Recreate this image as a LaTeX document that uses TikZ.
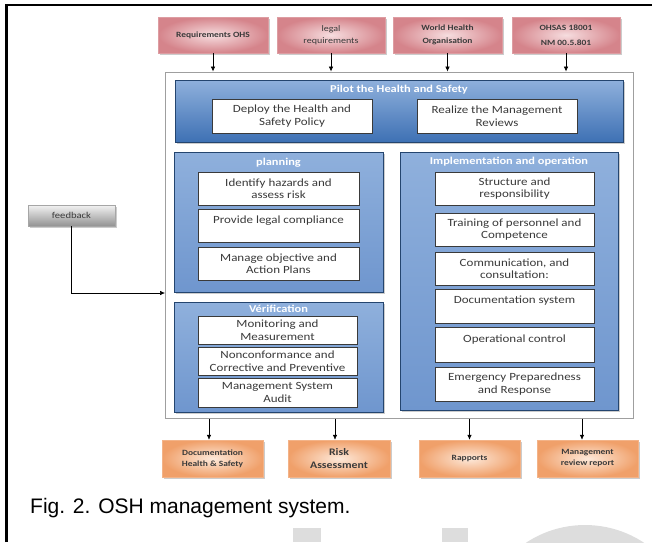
\documentclass[tikz,border=0pt]{standalone}
\usepackage{fontspec}
\setmainfont{Carlito}[FakeStretch=1.18]
\newfontfamily\capfont{Liberation Sans}
\usetikzlibrary{shadows,arrows.meta}
\definecolor{pinkout}{HTML}{D5848B}
\definecolor{pinkin}{HTML}{F6DDDF}
\definecolor{orgout}{HTML}{F0A06A}
\definecolor{orgin}{HTML}{FDE9DA}
\definecolor{blTop}{HTML}{8FB0DC}
\definecolor{blMid}{HTML}{3E71B4}
\definecolor{blBot}{HTML}{6F96CE}
\definecolor{blDraw}{HTML}{24456F}
\definecolor{txt}{HTML}{3A3A3A}
\definecolor{wm}{HTML}{DDDDDD}
\tikzset{
  shad/.style={drop shadow={opacity=0.4,shadow xshift=1.8pt,shadow yshift=-1.8pt}},
  pinkbox/.style={shad,draw=pinkout!80!white,line width=0.4pt,inner color=pinkin,outer color=pinkout,
    minimum height=36pt,align=center,text=txt,font=\fontsize{8}{13}\selectfont\bfseries},
  orgbox/.style={shad,draw=orgout!80!white,line width=0.4pt,inner color=orgin,outer color=orgout,
    minimum width=101pt,minimum height=37pt,align=center,text=txt,font=\fontsize{8}{11}\selectfont\bfseries},
  grp/.style={shad,draw=blDraw,line width=0.7pt,top color=blTop,middle color=blMid,bottom color=blBot},
  grptitle/.style={text=white,font=\fontsize{10.5}{12}\selectfont\bfseries},
  wbox/.style={draw=txt,line width=0.6pt,fill=white,align=center,text=txt,inner sep=1pt,
    font=\fontsize{11}{12.5}\selectfont},
  arr/.style={-{Latex[length=5pt,width=4.5pt]},line width=0.6pt,black},
  outerbox/.style={draw=gray!75,line width=1pt,fill=white}
}
\begin{document}
\begin{tikzpicture}[x=1pt,y=-1pt]
\useasboundingbox (0,0) rectangle (652,542);
% watermark
\begin{scope}
  \clip (0,0) rectangle (652,542);
  \fill[wm] (293,528) rectangle (321,542);
  \fill[wm] (442,528) rectangle (468,542);
  \fill[wm] (585,632) circle[radius=107];
\end{scope}
% frame
\draw[line width=2.2pt] (6.5,542) -- (6.5,5) -- (652,5);

% outer box
\node[outerbox,minimum width=468pt,minimum height=346pt] (outer) at (399,245) {};

% top sources
\node[pinkbox,minimum width=110pt] (r1) at (213,35) {Requirements OHS};
\node[pinkbox,minimum width=108pt,font=\fontsize{8.5}{12}\selectfont] (r2) at (331,35) {legal\\requirements};
\node[pinkbox,minimum width=109pt] (r3) at (447.5,35) {World Health\\Organisation};
\node[pinkbox,minimum width=108pt,font=\fontsize{8}{15}\selectfont\bfseries] (r4) at (566,35) {OHSAS 18001\\NM 00.5.801};
\foreach \n in {r1,r2,r3,r4} \draw[arr] (\n.south) -- (\n.south |- outer.north);

% pilot
\node[grp,top color=blTop,bottom color=blMid,minimum width=448pt,minimum height=62pt] (pilot) at (399,111) {};
\node[grptitle] (pilotT) at (399,90) {Pilot the Health and Safety};
\node[wbox,minimum width=160pt,minimum height=34pt] (pA) at (292,116) {Deploy the Health and\\Safety Policy};
\node[wbox,minimum width=160pt,minimum height=34pt] (pB) at (497,116) {Realize the Management\\Reviews};

% planning
\node[grp,minimum width=209pt,minimum height=140pt] (plan) at (278.5,222) {};
\node[grptitle] (planT) at (278.5,163) {planning};
\node[wbox,minimum width=161pt,minimum height=33pt] (pl1) at (278.5,188.5) {Identify hazards and\\assess risk};
\node[wbox,minimum width=161pt,minimum height=33pt] (pl2) at (278.5,225.5) {Provide legal compliance\\\mbox{}};
\node[wbox,minimum width=161pt,minimum height=33pt] (pl3) at (278.5,263.5) {Manage objective and\\Action Plans};

% verification
\node[grp,minimum width=209pt,minimum height=110pt] (verif) at (278.5,357) {};
\node[grptitle] (verifT) at (278.5,309) {V\'erification};
\node[wbox,minimum width=159pt,minimum height=28pt] (v1) at (277.5,330) {Monitoring and\\Measurement};
\node[wbox,minimum width=159pt,minimum height=28pt] (v2) at (277.5,361) {Nonconformance and\\Corrective and Preventive};
\node[wbox,minimum width=159pt,minimum height=29pt] (v3) at (277.5,392.5) {Management System\\Audit};

% implementation
\node[grp,minimum width=218pt,minimum height=258pt] (impl) at (509,281) {};
\node[grptitle] (implT) at (509,162) {Implementation and operation};
\node[wbox,minimum width=159pt,minimum height=33pt] (i1) at (514.5,188.5) {Structure and\\responsibility};
\node[wbox,minimum width=159pt,minimum height=33pt] (i2) at (514.5,229.5) {Training of personnel and\\Competence};
\node[wbox,minimum width=159pt,minimum height=33pt] (i3) at (514.5,268.5) {Communication, and\\consultation:};
\node[wbox,minimum width=159pt,minimum height=34pt] (i4) at (514.5,306) {Documentation system\\\mbox{}};
\node[wbox,minimum width=159pt,minimum height=35pt] (i5) at (514.5,344.5) {Operational control\\\mbox{}};
\node[wbox,minimum width=159pt,minimum height=34pt] (i6) at (514.5,384) {Emergency Preparedness\\and Response};

% feedback
\node[shad,draw=gray!70,top color=gray!10,bottom color=gray!85,minimum width=87pt,minimum height=21pt,
  text=txt,font=\fontsize{9}{11}\selectfont] (fb) at (71.5,215.5) {feedback};
\coordinate (fbin) at (165,293);
\draw[arr] (fb.south) |- (fbin);

% outputs
\node[orgbox] (o1) at (212.5,458.5) {Documentation\\Health \& Safety};
\node[orgbox,minimum width=102pt,font=\fontsize{10}{13}\selectfont\bfseries] (o2) at (339,458.5) {Risk\\Assessment};
\node[orgbox] (o3) at (469.5,458.5) {Rapports};
\node[orgbox] (o4) at (587.5,458.5) {Management\\review report};
\draw[arr] (outer.south -| 209,0) -- (o1.north -| 209,0);
\draw[arr] (outer.south -| 335,0) -- (o2.north -| 335,0);
\draw[arr] (outer.south -| o3.north) -- (o3.north);
\draw[arr] (outer.south -| 582,0) -- (o4.north -| 582,0);

% caption
\node[anchor=base west,inner sep=0pt,font=\capfont\fontsize{21}{24}\selectfont] (cap) at (30,513) {Fig. 2. OSH management system.};
\end{tikzpicture}
\end{document}
